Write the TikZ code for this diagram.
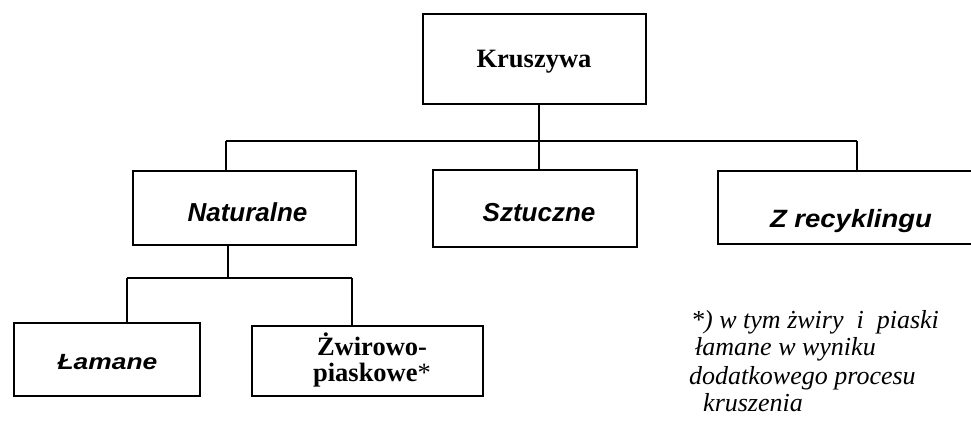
\documentclass[tikz,border=0pt]{standalone}
\usepackage{graphicx}
\usepackage{fontspec}
\setmainfont{Liberation Serif}
\newfontfamily\arialf{Liberation Sans}
\begin{document}
\begin{tikzpicture}[x=1pt,y=-1pt,
  box/.style={draw, line width=2pt, inner sep=0pt},
  conn/.style={line width=1.7pt},
  lbl/.style={inner sep=0pt, anchor=base},
  sanslbl/.style={lbl, font=\arialf\bfseries\itshape\fontsize{26}{30}\selectfont},
  serlbl/.style={lbl, font=\bfseries\fontsize{26.5}{30}\selectfont},
  notelbl/.style={inner sep=0pt, anchor=base west, font=\itshape\fontsize{26}{28}\selectfont}
]
\useasboundingbox (0,0) rectangle (971,421);
\clip (0,0) rectangle (971,421);

% boxes
\node[box, minimum width=223pt, minimum height=90pt] (kr) at (534.5,59) {};
\node[box, minimum width=223pt, minimum height=74pt] (nat) at (244.5,208) {};
\node[box, minimum width=204pt, minimum height=77pt] (sz) at (535,208.5) {};
\node[box, minimum width=258pt, minimum height=73pt] (zr) at (847,207.5) {};
\node[box, minimum width=186pt, minimum height=73pt] (lam) at (107,359.5) {};
\node[box, minimum width=231pt, minimum height=70pt] (zw) at (367.5,361) {};

% labels
\node[serlbl] (krT) at (534,67) {Kruszywa};
\node[sanslbl] (natT) at (247.5,221.7) {Naturalne};
\node[sanslbl] (szT) at (539,221.7) {Sztuczne};
\node[sanslbl, font=\arialf\bfseries\itshape\fontsize{25}{29}\selectfont] (zrT) at (851,227.7) {\scalebox{1.1}[1]{Z recyklingu}};
\node[sanslbl, font=\arialf\bfseries\itshape\fontsize{22}{26}\selectfont] (lamT) at (107.5,369) {\scalebox{1.2}[1]{Łamane}};
\node[serlbl] (zw1) at (372,355) {Żwirowo-};
\node[serlbl] (zw2) at (372,381.7) {piaskowe{\mdseries*}};

% footnote
\node[notelbl] (n1) at (691,328) {*) w tym żwiry~~i~~piaski};
\node[notelbl] (n2) at (695,355) {łamane w wyniku};
\node[notelbl] (n3) at (689,384) {dodatkowego procesu};
\node[notelbl] (n4) at (703,411.5) {kruszenia};

% connectors
\coordinate (bL) at (226,141);
\coordinate (bR) at (857,141);
\coordinate (bM) at (539,141);
\draw[conn] (bL) -- (bR);
\draw[conn] (kr.south -| bM) -- (sz.north -| bM);
\draw[conn] (bL) -- (nat.north -| bL);
\draw[conn] (bR) -- (zr.north -| bR);
\coordinate (cM) at (228,278);
\coordinate (cL) at (127,278);
\coordinate (cR) at (352,278);
\draw[conn] (nat.south -| cM) -- (cM);
\draw[conn] (cL) -- (cR);
\draw[conn] (cL) -- (lam.north -| cL);
\draw[conn] (cR) -- (zw.north -| cR);
\end{tikzpicture}
\end{document}
